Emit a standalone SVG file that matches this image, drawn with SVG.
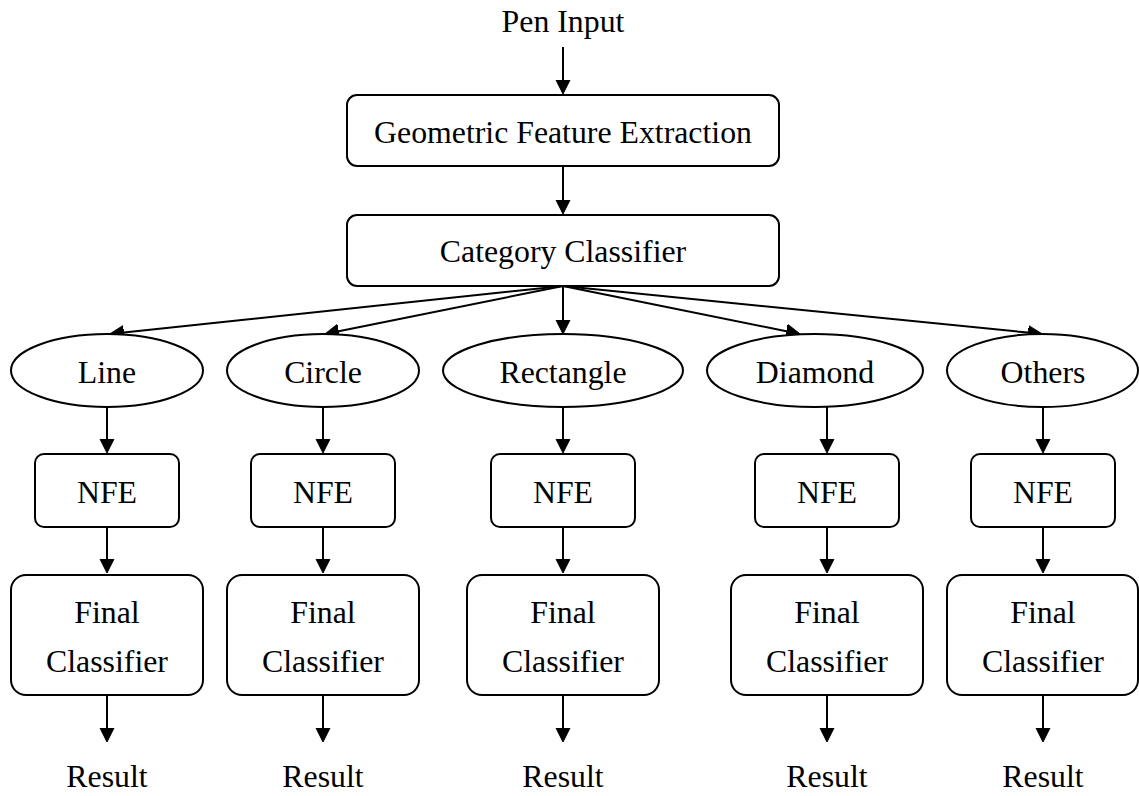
<svg xmlns="http://www.w3.org/2000/svg" width="1139" height="796" viewBox="0 0 1139 796">
<style>
  .box { fill: #ffffff; stroke: #000000; stroke-width: 2; }
  .lbl { font-family: 'Liberation Serif', 'DejaVu Serif', Times, serif; font-size: 31.8px; fill: #000000; text-anchor: middle; }
  .edge { fill: none; stroke: #000000; stroke-width: 2; }
</style>
<defs>
  <marker id="arr" markerUnits="userSpaceOnUse" markerWidth="16" markerHeight="16" viewBox="0 -8 16 16" refX="0" refY="0" orient="auto">
    <path d="M0,-7 L14,0 L0,7 z" fill="#000000" stroke="#000000" stroke-width="1"/>
  </marker>
</defs>
<rect width="1139" height="796" fill="#ffffff"/>

<g id="connectors">
  <line class="edge" x1="563" y1="47" x2="563" y2="80" marker-end="url(#arr)"/>
  <line class="edge" x1="563" y1="166" x2="563" y2="200" marker-end="url(#arr)"/>
  <line class="edge" x1="563" y1="286" x2="123.9" y2="332.5" marker-end="url(#arr)"/>
  <line class="edge" x1="563" y1="286" x2="338.7" y2="331.2" marker-end="url(#arr)"/>
  <line class="edge" x1="563" y1="286" x2="563" y2="320" marker-end="url(#arr)"/>
  <line class="edge" x1="563" y1="286" x2="786.3" y2="331.2" marker-end="url(#arr)"/>
  <line class="edge" x1="563" y1="286" x2="1028.1" y2="332.6" marker-end="url(#arr)"/>
  <line class="edge" x1="107" y1="407" x2="107" y2="439" marker-end="url(#arr)"/>
  <line class="edge" x1="107" y1="527" x2="107" y2="559" marker-end="url(#arr)"/>
  <line class="edge" x1="107" y1="695" x2="107" y2="728" marker-end="url(#arr)"/>
  <line class="edge" x1="323" y1="407" x2="323" y2="439" marker-end="url(#arr)"/>
  <line class="edge" x1="323" y1="527" x2="323" y2="559" marker-end="url(#arr)"/>
  <line class="edge" x1="323" y1="695" x2="323" y2="728" marker-end="url(#arr)"/>
  <line class="edge" x1="563" y1="407" x2="563" y2="439" marker-end="url(#arr)"/>
  <line class="edge" x1="563" y1="527" x2="563" y2="559" marker-end="url(#arr)"/>
  <line class="edge" x1="563" y1="695" x2="563" y2="728" marker-end="url(#arr)"/>
  <line class="edge" x1="827" y1="407" x2="827" y2="439" marker-end="url(#arr)"/>
  <line class="edge" x1="827" y1="527" x2="827" y2="559" marker-end="url(#arr)"/>
  <line class="edge" x1="827" y1="695" x2="827" y2="728" marker-end="url(#arr)"/>
  <line class="edge" x1="1043" y1="407" x2="1043" y2="439" marker-end="url(#arr)"/>
  <line class="edge" x1="1043" y1="527" x2="1043" y2="559" marker-end="url(#arr)"/>
  <line class="edge" x1="1043" y1="695" x2="1043" y2="728" marker-end="url(#arr)"/>
</g>

<g id="pen-input"><text class="lbl" font-family="Liberation Serif, serif" x="563" y="32">Pen Input</text></g>

<g id="gfe">
  <rect class="box" x="347" y="95" width="432" height="71" rx="10"/>
  <text class="lbl" x="563" y="143">Geometric Feature Extraction</text>
</g>
<g id="category-classifier">
  <rect class="box" x="347" y="215" width="432" height="71" rx="10"/>
  <text class="lbl" x="563" y="262">Category Classifier</text>
</g>

<g id="line">
  <ellipse class="box" cx="107" cy="370.5" rx="96" ry="36.5"/>
  <text class="lbl" x="107" y="383">Line</text>
</g>
<g id="circle">
  <ellipse class="box" cx="323" cy="370.5" rx="96" ry="36.5"/>
  <text class="lbl" x="323" y="383">Circle</text>
</g>
<g id="rectangle">
  <ellipse class="box" cx="563" cy="370.5" rx="120" ry="36.5"/>
  <text class="lbl" x="563" y="383">Rectangle</text>
</g>
<g id="diamond">
  <ellipse class="box" cx="815" cy="370.5" rx="108" ry="36.5"/>
  <text class="lbl" x="815" y="383">Diamond</text>
</g>
<g id="others">
  <ellipse class="box" cx="1042.5" cy="370.5" rx="95.5" ry="36.5"/>
  <text class="lbl" x="1043" y="383">Others</text>
</g>

<g id="nfe-line"><rect class="box" x="35" y="454" width="144" height="73" rx="9"/><text class="lbl" x="107" y="503">NFE</text></g>
<g id="nfe-circle"><rect class="box" x="251" y="454" width="144" height="73" rx="9"/><text class="lbl" x="323" y="503">NFE</text></g>
<g id="nfe-rectangle"><rect class="box" x="491" y="454" width="144" height="73" rx="9"/><text class="lbl" x="563" y="503">NFE</text></g>
<g id="nfe-diamond"><rect class="box" x="755" y="454" width="144" height="73" rx="9"/><text class="lbl" x="827" y="503">NFE</text></g>
<g id="nfe-others"><rect class="box" x="971" y="454" width="144" height="73" rx="9"/><text class="lbl" x="1043" y="503">NFE</text></g>

<g id="final-line"><rect class="box" x="11" y="575" width="192" height="120" rx="15"/><text class="lbl" x="107" y="623">Final</text><text class="lbl" x="107" y="672">Classifier</text></g>
<g id="final-circle"><rect class="box" x="227" y="575" width="192" height="120" rx="15"/><text class="lbl" x="323" y="623">Final</text><text class="lbl" x="323" y="672">Classifier</text></g>
<g id="final-rectangle"><rect class="box" x="467" y="575" width="192" height="120" rx="15"/><text class="lbl" x="563" y="623">Final</text><text class="lbl" x="563" y="672">Classifier</text></g>
<g id="final-diamond"><rect class="box" x="731" y="575" width="192" height="120" rx="15"/><text class="lbl" x="827" y="623">Final</text><text class="lbl" x="827" y="672">Classifier</text></g>
<g id="final-others"><rect class="box" x="947" y="575" width="191" height="120" rx="15"/><text class="lbl" x="1043" y="623">Final</text><text class="lbl" x="1043" y="672">Classifier</text></g>

<g id="result-line"><text class="lbl" x="107" y="787">Result</text></g>
<g id="result-circle"><text class="lbl" x="323" y="787">Result</text></g>
<g id="result-rectangle"><text class="lbl" x="563" y="787">Result</text></g>
<g id="result-diamond"><text class="lbl" x="827" y="787">Result</text></g>
<g id="result-others"><text class="lbl" x="1043" y="787">Result</text></g>
</svg>
